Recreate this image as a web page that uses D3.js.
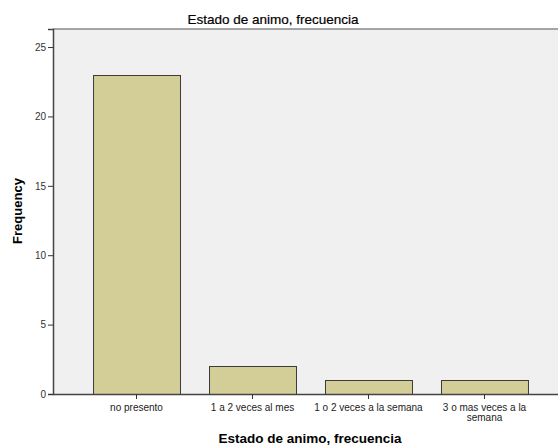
<!DOCTYPE html>
<html>
<head>
<meta charset="utf-8">
<script src="https://cdn.jsdelivr.net/npm/d3@7"></script>
<style>
  body { margin: 0; background: #fff; }
  text { font-family: "Liberation Sans", Arial, sans-serif; }
</style>
</head>
<body>
<svg id="chart" width="558" height="447"></svg>
<script>
const categories = [
  ["no presento"],
  ["1 a 2 veces al mes"],
  ["1 o 2 veces a la semana"],
  ["3 o mas veces a la", "semana"]
];
const frequencies = [23, 2, 1, 1];
const yTicks = [0, 5, 10, 15, 20, 25];

const svg = d3.select("#chart");
const plotLeft = 53, plotTop = 29, plotBottom = 394, plotRight = 568;

const x = d3.scaleBand()
  .domain(d3.range(categories.length))
  .range([plotLeft, plotRight])
  .paddingInner(0.25)
  .paddingOuter(0.345);

const y = d3.scaleLinear().domain([0, 26.3]).range([plotBottom, plotTop]);

// plot background
svg.append("rect")
  .attr("x", plotLeft).attr("y", plotTop)
  .attr("width", plotRight - plotLeft).attr("height", plotBottom - plotTop)
  .attr("fill", "#f0f0f0");
svg.append("line")
  .attr("x1", plotLeft).attr("x2", 558)
  .attr("y1", plotTop).attr("y2", plotTop)
  .attr("stroke", "#888").attr("stroke-width", 1.5);

// bars
svg.selectAll(".bar")
  .data(frequencies)
  .enter()
  .append("rect")
  .attr("class", "bar")
  .attr("x", (d, i) => x(i) + 0.5)
  .attr("y", (d) => Math.round(y(d)) + 0.5)
  .attr("width", x.bandwidth())
  .attr("height", (d) => plotBottom - Math.round(y(d)))
  .attr("fill", "#d3ce97")
  .attr("stroke", "#3c3c3c")
  .attr("stroke-width", 1);

// y axis
const yAxis = svg.append("g")
  .attr("transform", `translate(${plotLeft},0)`)
  .call(d3.axisLeft(y).tickValues(yTicks).tickSize(5).tickPadding(2));
yAxis.select(".domain").attr("stroke", "#444").attr("stroke-width", 1.5);
yAxis.selectAll(".tick line").attr("stroke", "#333");
yAxis.selectAll(".tick text")
  .attr("fill", "#333")
  .style("font-size", "10px")
  .style("font-family", "Liberation Sans, Arial, sans-serif");

// x axis
const xAxis = svg.append("g")
  .attr("transform", `translate(0,${plotBottom})`)
  .call(d3.axisBottom(x).tickFormat("").tickSize(5).tickSizeOuter(0));
xAxis.select(".domain").attr("stroke", "#444").attr("stroke-width", 1.5);
xAxis.selectAll(".tick line").attr("stroke", "#333");

categories.forEach((lines, i) => {
  const t = svg.append("text")
    .attr("x", x(i) + x.bandwidth() / 2)
    .attr("y", 411)
    .attr("text-anchor", "middle")
    .attr("fill", "#222")
    .style("font-size", "10px");
  lines.forEach((l, j) => {
    t.append("tspan")
      .attr("x", x(i) + x.bandwidth() / 2)
      .attr("dy", j === 0 ? 0 : 10)
      .text(l);
  });
});

// titles
svg.append("text")
  .attr("x", 273).attr("y", 24)
  .attr("text-anchor", "middle")
  .style("font-size", "13.5px")
  .style("stroke", "#000").style("stroke-width", 0.2)
  .text("Estado de animo, frecuencia");

svg.append("text")
  .attr("x", 310).attr("y", 443)
  .attr("text-anchor", "middle")
  .style("font-size", "13.5px")
  .style("font-weight", "bold")
  .text("Estado de animo, frecuencia");

svg.append("text")
  .attr("transform", "translate(22,211) rotate(-90)")
  .attr("text-anchor", "middle")
  .style("font-size", "13px")
  .style("font-weight", "bold")
  .text("Frequency");
</script>
</body>
</html>
